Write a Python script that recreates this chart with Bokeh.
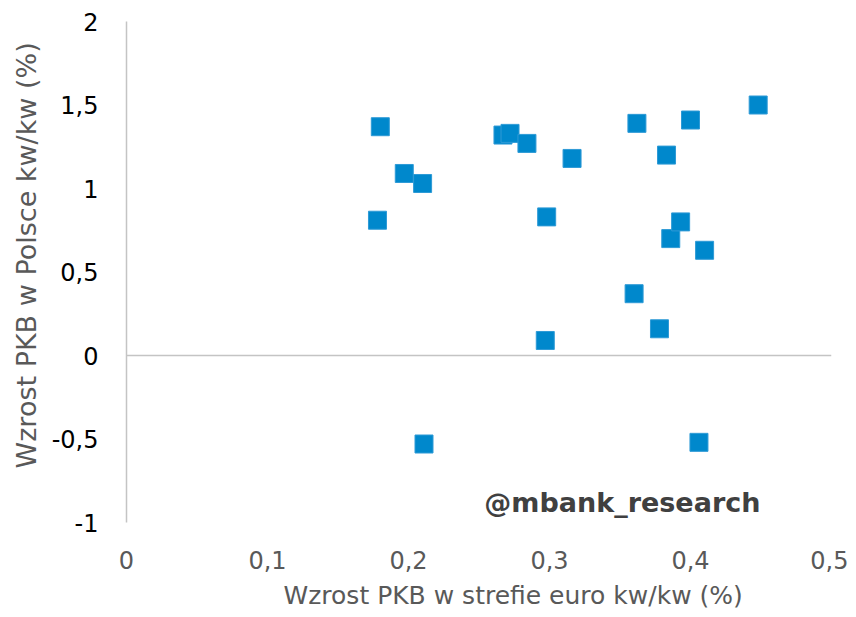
from bokeh.plotting import figure
from bokeh.models import Range1d, FixedTicker, Span, Label, Title, ColumnDataSource
from bokeh.embed import file_html
from bokeh.resources import INLINE

# Data: GDP growth q/q (%) - euro area (x) vs Poland (y)
euro_growth = [0.178, 0.180, 0.197, 0.210, 0.211, 0.267, 0.272, 0.284, 0.297, 0.298,
               0.316, 0.360, 0.362, 0.378, 0.383, 0.386, 0.393, 0.400, 0.406, 0.410, 0.448]
poland_growth = [0.81, 1.37, 1.09, 1.03, -0.53, 1.32, 1.33, 1.27, 0.09, 0.83,
                 1.18, 0.37, 1.39, 0.16, 1.20, 0.70, 0.80, 1.41, -0.52, 0.63, 1.50]

x_ticks = [0, 0.1, 0.2, 0.3, 0.4, 0.5]
x_tick_labels = ["0", "0,1", "0,2", "0,3", "0,4", "0,5"]
y_ticks = [-1, -0.5, 0, 0.5, 1, 1.5, 2]
y_tick_labels = ["-1", "-0,5", "0", "0,5", "1", "1,5", "2"]

x_title = "Wzrost PKB w strefie euro kw/kw (%)"
y_title = "Wzrost PKB w Polsce kw/kw (%)"
watermark = "@mbank_research"

FONT = "DejaVu Sans"

p = figure(width=848, height=617, output_backend="svg", toolbar_location=None,
           x_range=Range1d(0, 0.5), y_range=Range1d(-1, 2),
           min_border_left=126, min_border_right=17, min_border_top=21,
           min_border_bottom=95)
p.outline_line_color = None
p.background_fill_color = "white"
p.border_fill_color = "white"
p.xgrid.grid_line_color = None
p.ygrid.grid_line_color = None

# x axis
xa = p.xaxis[0]
xa.ticker = FixedTicker(ticks=x_ticks)
xa.major_label_overrides = {t: l for t, l in zip(x_ticks, x_tick_labels)}
xa.axis_line_color = None
xa.major_tick_line_color = None
xa.minor_tick_line_color = None
xa.major_label_standoff = 22
xa.major_label_text_font = FONT
xa.major_label_text_font_size = "24px"
xa.major_label_text_color = "#595959"

# y axis
ya = p.yaxis[0]
ya.ticker = FixedTicker(ticks=y_ticks)
ya.major_label_overrides = {t: l for t, l in zip(y_ticks, y_tick_labels)}
ya.axis_line_color = "#C4C4C4"
ya.axis_line_width = 1.5
ya.major_tick_line_color = None
ya.minor_tick_line_color = None
ya.major_label_standoff = 22
ya.major_label_text_font = FONT
ya.major_label_text_font_size = "24px"
ya.major_label_text_color = "#000000"

# axis titles (as titles so they can be offset like in the original)
p.add_layout(Title(text=x_title, align="left", offset=157, standoff=14,
                   text_line_height=0.6,
                   text_font=FONT, text_font_style="normal",
                   text_font_size="25px", text_color="#595959"), "below")
p.add_layout(Title(text=y_title, align="left", offset=54, standoff=14,
                   text_font=FONT, text_font_style="normal",
                   text_font_size="27px", text_color="#595959"), "left")

# zero line
p.add_layout(Span(location=0, dimension="width", line_color="#C4C4C4", line_width=1.5))

src = ColumnDataSource(data=dict(x=euro_growth, y=poland_growth))
p.scatter("x", "y", source=src, marker="square", size=18,
          fill_color="#0088CC", line_color="#2E9AD6", line_width=1)

p.add_layout(Label(x=0.4496, y=-0.88, text=watermark, text_align="right",
                   text_baseline="alphabetic", text_font=FONT,
                   text_font_style="bold", text_font_size="27px",
                   text_color="#404040"))

open("out.html", "w").write(file_html(p, INLINE))
